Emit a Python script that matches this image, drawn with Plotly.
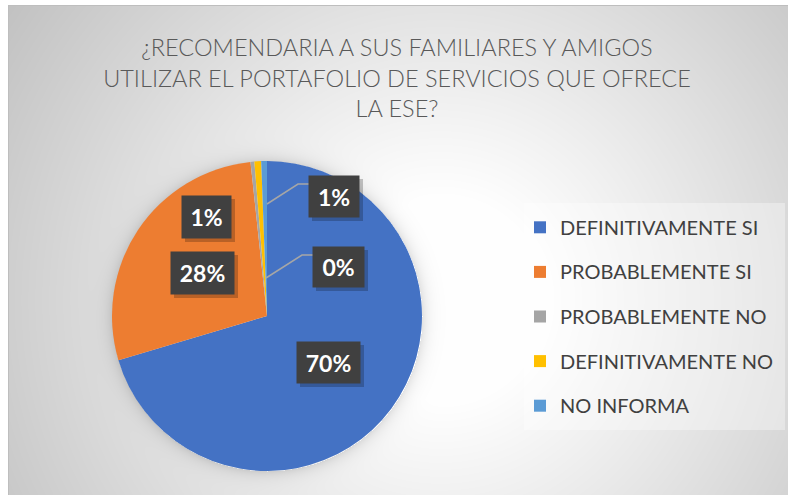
import base64, struct, zlib
import numpy as np
import plotly.graph_objects as go

# ---------------- data ----------------
categories = ["DEFINITIVAMENTE SI", "PROBABLEMENTE SI", "PROBABLEMENTE NO",
              "DEFINITIVAMENTE NO", "NO INFORMA"]
values = [70.4, 27.9, 0.4, 0.7, 0.6]
colors = ["#4472C4", "#ED7D31", "#A5A5A5", "#FFC000", "#5B9BD5"]
title_lines = ["¿RECOMENDARIA A SUS FAMILIARES Y AMIGOS",
               "UTILIZAR EL PORTAFOLIO DE SERVICIOS QUE OFRECE",
               "LA ESE?"]

W, H = 788, 495
PIE_CX, PIE_CY, PIE_R = 267, 316, 155


def px(x):
    return x / W


def py(y):
    return 1 - y / H


# ---------------- background (radial gradient + pie glow) ----------------
yy, xx = np.mgrid[0:H, 0:W].astype(float)
d = np.hypot(xx - 440, yy - 300)
t = np.clip((d - 100) / 430, 0, 1)
bg = 255 - 62 * t
rp = np.hypot(xx - PIE_CX, yy - PIE_CY)
glow = np.where(rp > PIE_R, 28 * np.exp(-(rp - PIE_R) / 7.0), 0)
bg = bg - glow
bg[(xx < 8) | (yy < 5)] = 255
bg[(yy == 5) & (xx >= 8)] = 190
bg[(xx == 8) & (yy >= 5)] = 190
img = np.clip(bg, 0, 255).astype(np.uint8)
img = np.stack([img, img, img], axis=-1)


def png_bytes(a):
    h, w, _ = a.shape
    raw = b"".join(b"\x00" + a[i].tobytes() for i in range(h))

    def chunk(tag, data):
        return (struct.pack(">I", len(data)) + tag + data +
                struct.pack(">I", zlib.crc32(tag + data) & 0xffffffff))
    return (b"\x89PNG\r\n\x1a\n" +
            chunk(b"IHDR", struct.pack(">IIBBBBB", w, h, 8, 2, 0, 0, 0)) +
            chunk(b"IDAT", zlib.compress(raw, 9)) + chunk(b"IEND", b""))


bg_uri = "data:image/png;base64," + base64.b64encode(png_bytes(img)).decode()

# ---------------- figure ----------------
legend_labels = [f'<span style="font-size:20px;baseline-shift:5px">{c}</span>' for c in categories]

fig = go.Figure(go.Pie(
    labels=legend_labels,
    values=values,
    marker=dict(colors=colors, line=dict(width=0)),
    sort=False,
    direction="clockwise",
    rotation=0,
    textinfo="none",
    hoverinfo="label+percent",
    domain=dict(x=[px(PIE_CX - PIE_R), px(PIE_CX + PIE_R)],
                y=[py(PIE_CY + PIE_R), py(PIE_CY - PIE_R)]),
))

total = sum(values)
pcts = [f"{int(v / total * 100 + 0.5)}%" for v in values]

# label boxes: (center x, center y, width, height) in pixels, per slice index
label_boxes = {
    0: (328.5, 362.5, 63, 41),
    1: (202.5, 273, 63, 42),
    2: (338.5, 267, 51, 40),
    3: (206.5, 217, 49, 42),
    4: (334, 196.5, 50, 41),
}

shapes = []
annotations = []
# legend background panel
shapes.append(dict(type="rect", xref="paper", yref="paper",
                   x0=px(524), x1=px(785), y0=py(430), y1=py(203),
                   fillcolor="rgba(255,255,255,0.35)", line=dict(width=0),
                   layer="below"))
# leader lines
leader_paths = [
    [(309, 184), (298, 184), (267, 204)],
    [(313, 255), (302, 255), (266, 278)],
]
for pts in leader_paths:
    path = "M " + " L ".join(f"{px(x)},{py(y)}" for x, y in pts)
    shapes.append(dict(type="path", xref="paper", yref="paper", path=path,
                       line=dict(color="#A6A6A6", width=1.5), layer="above"))

for i, (cx, cy, bw, bh) in label_boxes.items():
    # soft shadow
    shapes.append(dict(type="rect", xref="paper", yref="paper",
                       x0=px(cx - bw / 2 + 3), x1=px(cx + bw / 2 + 4),
                       y0=py(cy + bh / 2 + 4), y1=py(cy - bh / 2 + 3),
                       fillcolor="rgba(0,0,0,0.22)", line=dict(width=0),
                       layer="above"))
    annotations.append(dict(
        x=px(cx), y=py(cy), xref="paper", yref="paper",
        xanchor="center", yanchor="middle",
        text=f"<b>{pcts[i]}</b>", showarrow=False,
        width=bw, height=bh, borderpad=0, bgcolor="#404040",
        font=dict(family="Lato", size=23, color="white"),
    ))

fig.update_layout(
    width=W, height=H,
    margin=dict(l=0, r=0, t=0, b=0),
    paper_bgcolor="white",
    plot_bgcolor="white",
    images=[dict(source=bg_uri, xref="paper", yref="paper", x=0, y=1,
                 sizex=1, sizey=1, xanchor="left", yanchor="top",
                 sizing="stretch", layer="below")],
    title=dict(text="<br>".join(title_lines), x=px(397), xref="container",
               xanchor="center", y=1 - 56 / H, yref="container", yanchor="top",
               font=dict(family="Lato", size=23.5, color="#595959", weight=300)),
    legend=dict(x=px(520), xanchor="left", y=py(200), yanchor="top",
                bgcolor="rgba(0,0,0,0)", borderwidth=0,
                font=dict(family="Lato", size=32, color="#404040")),
    shapes=shapes,
    annotations=annotations,
)

fig.write_html("out.html", config={"displayModeBar": False},
               post_script="document.body.style.margin='0';")
